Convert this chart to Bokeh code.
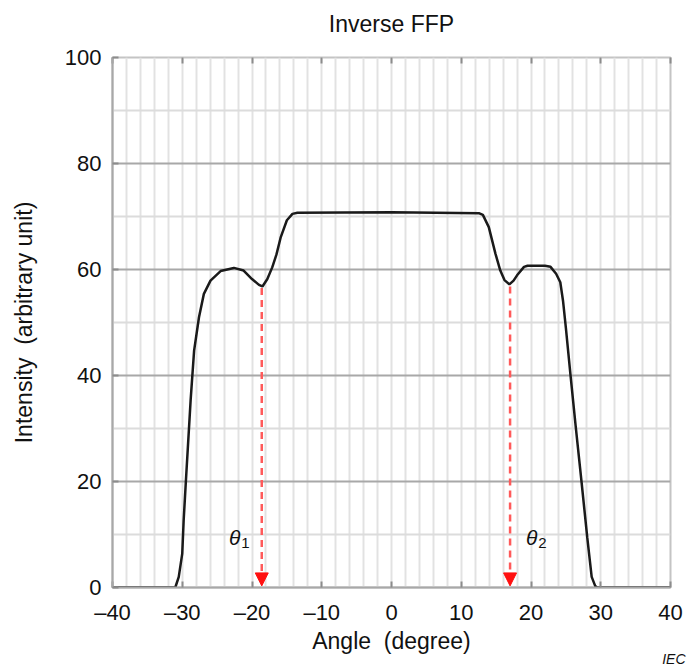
from bokeh.plotting import figure
from bokeh.models import Range1d, FixedTicker, LinearAxis, Arrow, NormalHead, Label, Title
from bokeh.embed import file_html
from bokeh.resources import INLINE

# ---- data ----
angle = [-40, -31.0, -30.5, -30.0, -29.8, -29.5, -28.8, -28.3, -27.6, -26.9, -25.95,
         -24.5, -22.6, -21.2, -20.0, -19.0, -18.5, -17.8, -17.1, -16.5, -15.9, -15.0,
         -14.2, -13.5, 0.0, 12.6, 13.1, 13.95, 14.9, 15.6, 16.2, 16.9, 17.5, 18.0,
         19.0, 19.5, 22.0, 22.8, 23.6, 24.2, 24.6, 25.0, 25.66, 26.4, 27.24, 28.06,
         28.7, 29.2, 29.5, 40]
intensity = [0, 0, 2.0, 6.4, 12.6, 19.6, 35.3, 44.7, 51.0, 55.4, 57.9,
             59.7, 60.3, 59.8, 58.2, 57.1, 56.8, 58.2, 60.4, 62.8, 66.0, 69.3,
             70.5, 70.7, 70.8, 70.6, 70.3, 68.0, 63.0, 59.8, 58.0, 57.2, 57.9, 58.9,
             60.5, 60.7, 60.7, 60.5, 59.2, 57.6, 54.0, 49.0, 40.1, 30.5, 20.0, 9.5,
             2.0, 0.3, 0, 0]

theta_angle = [-18.6, 17.0]          # angles marked θ1 / θ2
theta_top = [56.5, 56.8]             # curve dips where the arrows start
theta_names = ["1", "2"]

x_ticks = [-40, -30, -20, -10, 0, 10, 20, 30, 40]
x_tick_labels = ["\u201340", "\u201330", "\u201320", "\u201310", "0", "10", "20", "30", "40"]
y_ticks = [0, 20, 40, 60, 80, 100]
y_tick_labels = ["0", "20", "40", "60", "80", "100"]
y_minor = [10, 30, 50, 70, 90]
x_grid = list(range(-40, 41, 2))

FONT = "Liberation Sans"

p = figure(frame_width=558, frame_height=530,
           x_range=Range1d(-40, 40), y_range=Range1d(0, 100),
           output_backend="svg", toolbar_location=None,
           min_border_left=112, min_border_right=18, min_border_top=57,
           min_border_bottom=79, background_fill_color="white",
           border_fill_color="white")
p.title = None

p.outline_line_color = "#c4c4c4"
p.outline_line_width = 2

# grids
p.xgrid.ticker = FixedTicker(ticks=x_grid)
p.xgrid.grid_line_color = "#e2e2e2"
p.xgrid.grid_line_width = 2
p.ygrid.ticker = FixedTicker(ticks=[t for t in y_ticks if 0 < t < 100], minor_ticks=y_minor)
p.ygrid.grid_line_color = "#a8a8a8"
p.ygrid.grid_line_width = 2
p.ygrid.minor_grid_line_color = "#dcdcdc"
p.ygrid.minor_grid_line_width = 2

# axes
xa = p.xaxis[0]
xa.ticker = FixedTicker(ticks=x_ticks)
xa.major_label_overrides = dict(zip(x_ticks, x_tick_labels))
ya = p.yaxis[0]
ya.ticker = FixedTicker(ticks=y_ticks)
ya.major_label_overrides = dict(zip(y_ticks, y_tick_labels))
for ax in (xa, ya):
    ax.axis_line_color = "#a8a8a8"
    ax.axis_line_width = 2
    ax.major_tick_in = 6
    ax.major_tick_out = 0
    ax.major_tick_line_color = "#8c8c8c"
    ax.major_tick_line_width = 2
    ax.minor_tick_line_color = None
    ax.major_label_text_font = FONT
    ax.major_label_text_font_size = "22px"
    ax.major_label_text_color = "#111111"
    ax.axis_label_text_font = FONT
    ax.axis_label_text_font_size = "23px"
    ax.axis_label_text_font_style = "normal"
    ax.axis_label_text_color = "#111111"
xa.axis_label = "Angle \u00a0(degree)"
xa.major_label_standoff = 12
xa.axis_label_standoff = 0
ya.axis_label = "Intensity \u00a0(arbitrary unit)"
ya.major_label_standoff = 11
ya.axis_label_standoff = 25

top = LinearAxis(ticker=FixedTicker(ticks=x_ticks), axis_line_color=None,
                 major_tick_in=6, major_tick_out=0, major_tick_line_color="#8c8c8c",
                 major_tick_line_width=2, minor_tick_line_color=None,
                 major_label_overrides={t: "" for t in x_ticks},
                 major_label_standoff=0)
p.add_layout(top, "above")

# spacer between frame and title, then the title itself
p.add_layout(Title(text=" ", text_font_size="12px", standoff=2), "above")
p.add_layout(Title(text="Inverse FFP", align="center", offset=5, text_font=FONT,
                   text_font_size="23px", text_font_style="normal",
                   text_color="#111111", standoff=6), "above")

# curve
p.line(angle, intensity, line_color="#1a1a1a", line_width=2.5)

# arrows and θ labels
for xv, yt, nm in zip(theta_angle, theta_top, theta_names):
    p.add_layout(Arrow(x_start=xv, y_start=yt, x_end=xv, y_end=0.3,
                       line_color="#ff5a5a", line_width=2.5, line_dash="7 5",
                       end=NormalHead(size=13, fill_color="#ff1010",
                                      line_color="#ff1010", line_width=1)))
    lx = xv - 4.7 if nm == "1" else xv + 2.3
    p.add_layout(Label(x=lx, y=9.4, text="\u03b8", text_font=FONT,
                       text_font_style="italic", text_font_size="21px",
                       text_color="#111111", text_baseline="alphabetic"))
    p.add_layout(Label(x=lx + 1.75, y=8.4, text=nm, text_font=FONT,
                       text_font_size="15px", text_color="#111111",
                       text_baseline="alphabetic"))

iec = Title(text="IEC", align="right", text_font=FONT, text_font_style="italic",
            text_font_size="14px", text_color="#111111", standoff=-16, offset=-15)
p.add_layout(iec, "below")

open("out.html", "w").write(file_html(p, INLINE))
